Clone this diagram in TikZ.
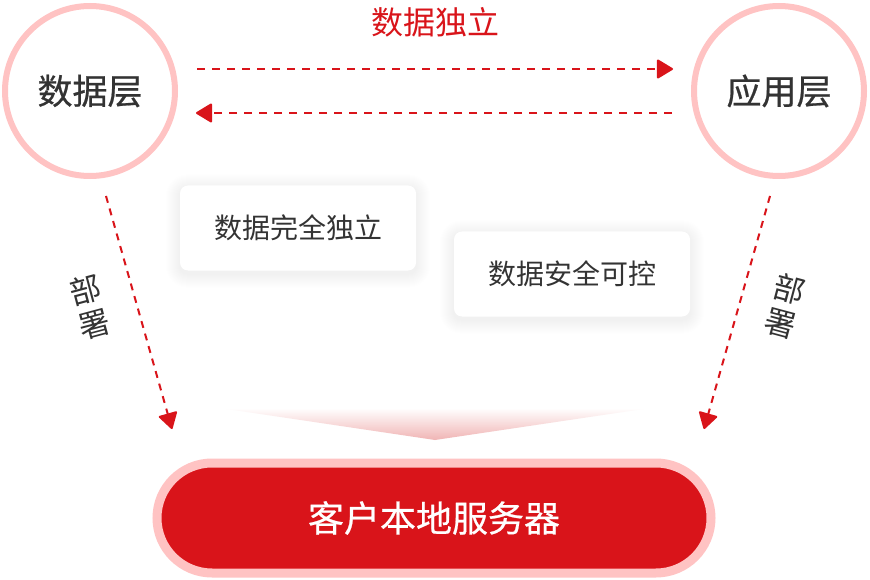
\documentclass[tikz,border=0pt]{standalone}
\usepackage{fontspec}
\newfontfamily\cjk{Noto Sans CJK SC}
\newfontfamily\cjkmid[FakeBold=0.6]{Noto Sans CJK SC}
\usetikzlibrary{arrows.meta,calc}
\definecolor{mainred}{HTML}{D9141A}
\definecolor{ringpink}{HTML}{FFC3C3}
\definecolor{fadepink}{HTML}{F0B4B4}
\definecolor{textgray}{HTML}{333333}
\pgfdeclarelayer{back}
\pgfsetlayers{back,main}

\begin{document}
\begin{tikzpicture}[x=1pt,y=-1pt,
  layer/.style={circle,draw=ringpink,line width=6pt,fill=white,minimum size=170pt,
    text=textgray,font=\cjkmid\fontsize{35}{35}\selectfont},
  card/.style={rectangle,rounded corners=8pt,fill=white,minimum width=236pt,minimum height=85pt,
    text=textgray,font=\cjk\fontsize{28}{28}\selectfont},
  link/.style={mainred,line width=2pt,dash pattern=on 8pt off 7pt,
    -{Triangle[length=17pt,width=20pt,round]}},
  deploy/.style={text=textgray,align=center,font=\cjk\fontsize{31}{35}\selectfont}]
\begin{pgfonlayer}{back}
\fill[white] (0,0) rectangle (870,580);
\end{pgfonlayer}
\useasboundingbox (0,0) rectangle (870,580);
\node[layer] (data) at (90,91) {数据层};
\node[layer] (app) at (779,91) {应用层};
\node[mainred,font=\cjk\fontsize{32}{32}\selectfont] (indep) at (435,22) {数据独立};
\coordinate (t0) at (197,69);
\coordinate (t1) at (673,69);
\coordinate (b0) at (672,113);
\coordinate (b1) at (196,113);
\draw[link] (t0) -- (t1);
\draw[link] (b0) -- (b1);
\node[card] (c0) at (298,228) {数据完全独立};
\node[card] (c1) at (572,274) {数据安全可控};
% soft shadows under the cards
\begin{pgfonlayer}{back}
\foreach \n in {c0,c1}
  \foreach \i in {1,...,14}
    \fill[black,opacity=0.005,rounded corners={(8+\i)*1pt}]
      ($(\n.south west)+(-\i,\i+3)$) rectangle ($(\n.north east)+(\i,-\i+3)$);
\end{pgfonlayer}
\coordinate (l0) at (106,196);
\coordinate (l1) at (172,429);
\coordinate (r0) at (770,196);
\coordinate (r1) at (704,429);
\draw[link,dash pattern=on 7pt off 6pt] (l0) -- (l1);
\draw[link,dash pattern=on 7pt off 6pt] (r0) -- (r1);
\node[deploy,rotate=15] (dl) at (90,307) {部\\署};
\node[deploy,rotate=-15] (dr) at (785,306) {部\\署};
\coordinate (g0) at (220,408);
\coordinate (g1) at (650,408);
\coordinate (g2) at (435,440);
\shade[top color=white,bottom color=fadepink] (g0) -- (g1) -- (g2) -- cycle;
\node[rectangle,rounded corners=55pt,draw=ringpink,line width=9pt,fill=mainred,
  minimum width=554pt,minimum height=110pt,text=white,
  font=\cjkmid\fontsize{36}{36}\selectfont] (server) at (434,518) {客户本地服务器};
\end{tikzpicture}
\end{document}
